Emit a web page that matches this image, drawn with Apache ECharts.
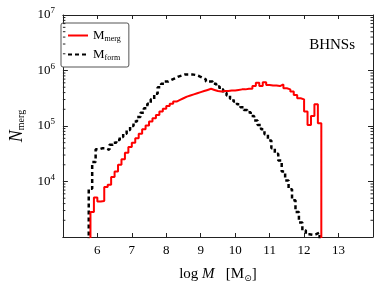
<!DOCTYPE html>
<html><head><meta charset="utf-8">
<script src="https://cdn.jsdelivr.net/npm/echarts@6/dist/echarts.min.js"></script>
<style>html,body{margin:0;padding:0;background:#fff}#c{width:382px;height:288px}</style>
</head><body><div id="c"></div>
<script>
// ---- data ----
const mergEdges = [5.8,5.9,6.0,6.1,6.2,6.3,6.4,6.5,6.6,6.7,6.8,6.9,7.0,7.1,7.2,7.3,7.4,7.5,7.6,7.7,7.8,7.9,8.0,8.1,8.2,8.3,8.4,8.5,8.6,8.7,8.8,8.9,9.0,9.1,9.2,9.3,9.4,9.5,9.6,9.7,9.8,9.9,10.0,10.1,10.2,10.3,10.4,10.5,10.6,10.7,10.8,10.9,11.0,11.1,11.2,11.3,11.4,11.5,11.6,11.7,11.8,11.9,12.0,12.1,12.2,12.3,12.4,12.5];
const mergLogN = [3.45,3.71,3.64,3.65,3.90,3.94,4.08,4.18,4.30,4.40,4.52,4.62,4.70,4.78,4.86,4.94,5.01,5.08,5.14,5.20,5.26,5.31,5.36,5.40,5.44,5.47,5.50,5.53,5.55,5.57,5.59,5.61,5.63,5.65,5.67,5.65,5.63,5.62,5.63,5.63,5.64,5.64,5.65,5.66,5.66,5.67,5.67,5.72,5.78,5.72,5.79,5.74,5.73,5.73,5.72,5.75,5.68,5.66,5.62,5.56,5.50,5.48,5.26,5.02,5.18,5.39,5.05];
const formEdges = [5.75,5.85,5.95,6.05,6.15,6.25,6.35,6.45,6.55,6.65,6.75,6.85,6.95,7.05,7.15,7.25,7.35,7.45,7.55,7.65,7.75,7.85,7.95,8.05,8.15,8.25,8.35,8.45,8.55,8.65,8.75,8.85,8.95,9.05,9.15,9.25,9.35,9.45,9.55,9.65,9.75,9.85,9.95,10.05,10.15,10.25,10.35,10.45,10.55,10.65,10.75,10.85,10.95,11.05,11.15,11.25,11.35,11.45,11.55,11.65,11.75,11.85,11.95,12.05,12.15,12.25,12.35,12.45];
const formLogN = [3.87,4.35,4.58,4.60,4.60,4.57,4.66,4.70,4.75,4.80,4.86,4.93,5.00,5.08,5.16,5.24,5.32,5.40,5.48,5.58,5.70,5.76,5.80,5.83,5.86,5.89,5.91,5.93,5.93,5.93,5.92,5.90,5.87,5.84,5.80,5.80,5.76,5.71,5.66,5.60,5.55,5.49,5.44,5.39,5.34,5.29,5.25,5.18,5.10,5.02,4.94,4.85,4.74,4.60,4.50,4.38,4.18,4.02,3.86,3.66,3.45,3.26,3.12,3.05,3.04,3.05,3.08];
const xTicks = [6,7,8,9,10,11,12,13];
const seriesNames = ['M_merg','M_form'];

function stepPoints(edges, logN) {
  const pts = [[edges[0], 1]];
  for (let i = 0; i < logN.length; i++) {
    const v = Math.pow(10, logN[i]);
    pts.push([edges[i], v], [edges[i + 1], v]);
  }
  pts.push([edges[edges.length - 1], 1]);
  return pts;
}
const minorVals = [];
for (let d = 3; d < 7; d++) for (let k = 2; k <= 9; k++) minorVals.push(k * Math.pow(10, d));

const FONT = 'Liberation Serif';
const chart = echarts.init(document.getElementById('c'), null, {renderer: 'canvas'});
const axisCommon = {
  axisLine: {show: true, lineStyle: {color: '#222', width: 1}},
  splitLine: {show: false}
};
chart.setOption({
  animation: false,
  backgroundColor: '#fff',
  grid: {left: 53, right: 9, top: 15, bottom: 50},
  title: {text: 'BHNSs', right: 22, top: 33, textStyle: {fontFamily: FONT, fontSize: 15, fontWeight: 'normal', color: '#000'}},
  legend: {
    left: 61, top: 23, orient: 'vertical',
    borderColor: '#555', borderWidth: 1, borderRadius: 2,
    padding: [6, 8, 5, 6], itemGap: 5, itemWidth: 20, itemHeight: 12,
    backgroundColor: '#fff',
    data: seriesNames,
    itemStyle: {opacity: 0, borderWidth: 0},
    formatter: function (n) { const p = n.split('_'); return '{m|' + p[0] + '}{s|' + p[1] + '}'; },
    textStyle: {fontFamily: FONT, color: '#000',
      rich: {m: {fontFamily: FONT, fontSize: 13, color: '#000'},
             s: {fontFamily: FONT, fontSize: 8, color: '#000', padding: [7, 0, 0, 0]}}}
  },
  xAxis: [
    Object.assign({type: 'value', min: 5, max: 14, interval: 1, position: 'bottom',
      axisTick: {show: true, inside: true, length: 4, lineStyle: {color: '#222'}},
      axisLabel: {show: true, fontFamily: FONT, fontSize: 13, color: '#000', margin: 7,
        showMinLabel: false, showMaxLabel: false,
        formatter: v => xTicks.indexOf(v) >= 0 ? String(v) : ''},
      name: 'log {i|M}   [M{s|⊙}]', nameLocation: 'middle', nameGap: 28,
      nameTextStyle: {fontFamily: FONT, fontSize: 15, color: '#000',
        rich: {i: {fontFamily: FONT, fontStyle: 'italic', fontSize: 15}, s: {fontFamily: 'DejaVu Sans', fontSize: 9, padding: [9, 0, 0, 0]}}}
    }, axisCommon),
    Object.assign({type: 'value', min: 5, max: 14, interval: 1, position: 'top',
      axisTick: {show: true, inside: true, length: 4, lineStyle: {color: '#222'}},
      axisLabel: {show: false}}, axisCommon)
  ],
  yAxis: [
    Object.assign({type: 'log', logBase: 10, min: 1e3, max: 1e7, position: 'left',
      axisTick: {show: true, inside: true, length: 5, lineStyle: {color: '#222'}},
      axisLabel: {show: true, fontFamily: FONT, fontSize: 13, color: '#000', margin: 8,
        formatter: v => v <= 1000 ? '' : '10{e|' + Math.round(Math.log10(v)) + '}',
        rich: {e: {fontFamily: FONT, fontSize: 9, padding: [0, 0, 8, 0]}}},
      name: '{n|N}{s|merg}', nameLocation: 'middle', nameGap: 36, nameRotate: 90,
      nameTextStyle: {fontFamily: FONT, color: '#000',
        rich: {n: {fontFamily: FONT, fontStyle: 'italic', fontSize: 18}, s: {fontFamily: FONT, fontSize: 10, padding: [9, 0, 0, 0]}}}
    }, axisCommon),
    Object.assign({type: 'log', logBase: 10, min: 1e3, max: 1e7, position: 'right',
      axisTick: {show: true, inside: true, length: 5, lineStyle: {color: '#222'}},
      axisLabel: {show: false}}, axisCommon)
  ],
  series: [
    {name: 'M_merg', type: 'line', data: stepPoints(mergEdges, mergLogN), showSymbol: false, symbol: 'none',
      lineStyle: {color: '#ff0000', width: 2}, itemStyle: {color: '#ff0000'}, z: 3},
    {name: 'M_form', type: 'line', data: stepPoints(formEdges, formLogN), showSymbol: false, symbol: 'none',
      lineStyle: {color: '#000', width: 2.5, type: [4, 3]}, itemStyle: {color: '#000'}, z: 2},
    {type: 'custom', silent: true, data: minorVals.map(v => [v]), encode: {y: 0},
      renderItem: function (params, api) {
        const v = api.value(0);
        const a = api.coord([5, v]), b = api.coord([14, v]);
        return {type: 'group', children: [
          {type: 'line', shape: {x1: a[0], y1: a[1], x2: a[0] + 2.5, y2: a[1]}, style: {stroke: '#222', lineWidth: 1}},
          {type: 'line', shape: {x1: b[0] - 2.5, y1: b[1], x2: b[0], y2: b[1]}, style: {stroke: '#222', lineWidth: 1}}
        ]};
      }, z: 5}
  ]
});
</script></body></html>
